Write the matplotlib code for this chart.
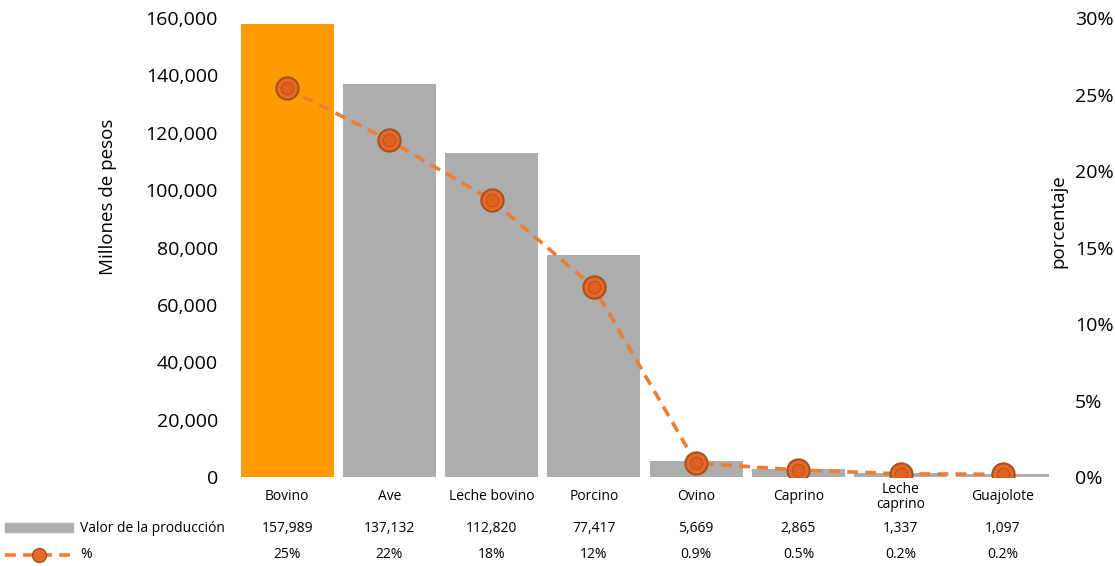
import matplotlib.pyplot as plt
import matplotlib.transforms as mtransforms
from matplotlib.patches import Rectangle
from matplotlib.lines import Line2D
from matplotlib.ticker import FuncFormatter, PercentFormatter

plt.rcParams['font.family'] = ['Open Sans', 'DejaVu Sans']

categorias = ['Bovino', 'Ave', 'Leche bovino', 'Porcino', 'Ovino', 'Caprino',
              'Leche\ncaprino', 'Guajolote']
valores = [157989, 137132, 112820, 77417, 5669, 2865, 1337, 1097]
porcentaje = [25.4, 22.0, 18.1, 12.4, 0.91, 0.46, 0.21, 0.18]
etiquetas_pct = ['25%', '22%', '18%', '12%', '0.9%', '0.5%', '0.2%', '0.2%']

gris = '#ADADAD'
naranja = '#FF9A00'
linea = '#ED7D31'

fig = plt.figure(figsize=(11.15, 5.66), dpi=100)
ax = fig.add_axes([0.2117, 0.1572, 0.7336, 0.811])
x = range(len(categorias))
colores = [naranja] + [gris] * (len(categorias) - 1)
ax.bar(x, valores, width=0.91, color=colores, zorder=1)
ax.set_xlim(-0.5, len(categorias) - 0.5)
ax.set_ylim(0, 160000)
ax.set_yticks(range(0, 160001, 20000))
ax.yaxis.set_major_formatter(FuncFormatter(lambda v, p: f'{int(v):,}'))
ax.set_xticks([])
ax.tick_params(axis='y', length=0, labelsize=14, pad=13)
for s in ax.spines.values():
    s.set_visible(False)
fig.text(108 / 1115, 1 - 197 / 566, 'Millones de pesos', rotation=90,
         ha='center', va='center', fontsize=13.5)

ax2 = ax.twinx()
ax2.plot(x, porcentaje, color=linea, lw=2.6, ls=(0, (3, 2)), marker='o',
         markersize=16, markerfacecolor='#E86A28', markeredgecolor='#A5501F',
         markeredgewidth=1.5, zorder=3)
ax2.plot(x, porcentaje, ls='none', marker='o', markersize=9,
         markerfacecolor='#E0601E', markeredgecolor='#C0501A', markeredgewidth=0.8, zorder=4)
ax2.set_ylim(0, 30)
ax2.set_yticks(range(0, 31, 5))
ax2.yaxis.set_major_formatter(PercentFormatter(decimals=0))
ax2.tick_params(axis='y', length=0, labelsize=14, pad=15)
for s in ax2.spines.values():
    s.set_visible(False)
fig.text(1058 / 1115, 1 - 221 / 566, 'porcentaje', rotation=90,
         ha='center', va='center', fontsize=13.5)

# tabla de datos debajo del eje
tr = mtransforms.blended_transform_factory(ax.transData, fig.transFigure)
for i, c in enumerate(categorias):
    ax.text(i, 1 - 497 / 566, c, transform=tr, ha='center', va='center',
            fontsize=10, linespacing=1.0)
    ax.text(i, 1 - 528 / 566, f'{valores[i]:,}', transform=tr, ha='center',
            va='center', fontsize=10)
    ax.text(i, 1 - 555 / 566, etiquetas_pct[i], transform=tr, ha='center',
            va='center', fontsize=10)

fig.patches.append(Rectangle((5 / 1115, 1 - 532 / 566), 68 / 1115, 9 / 566,
                             transform=fig.transFigure, color=gris))
fig.text(80 / 1115, 1 - 528 / 566, 'Valor de la producción', ha='left',
         va='center', fontsize=10)
fig.lines.append(Line2D([5 / 1115, 73 / 1115], [1 - 555 / 566] * 2,
                        transform=fig.transFigure, color=linea, lw=2.6,
                        ls=(0, (3, 2))))
fig.lines.append(Line2D([39 / 1115], [1 - 555 / 566], transform=fig.transFigure,
                        marker='o', markersize=10, markerfacecolor='#E86A28',
                        markeredgecolor='#A5501F', ls='none'))
fig.text(80 / 1115, 1 - 555 / 566, '%', ha='left', va='center', fontsize=10)

fig.savefig('out.png', dpi=100)
